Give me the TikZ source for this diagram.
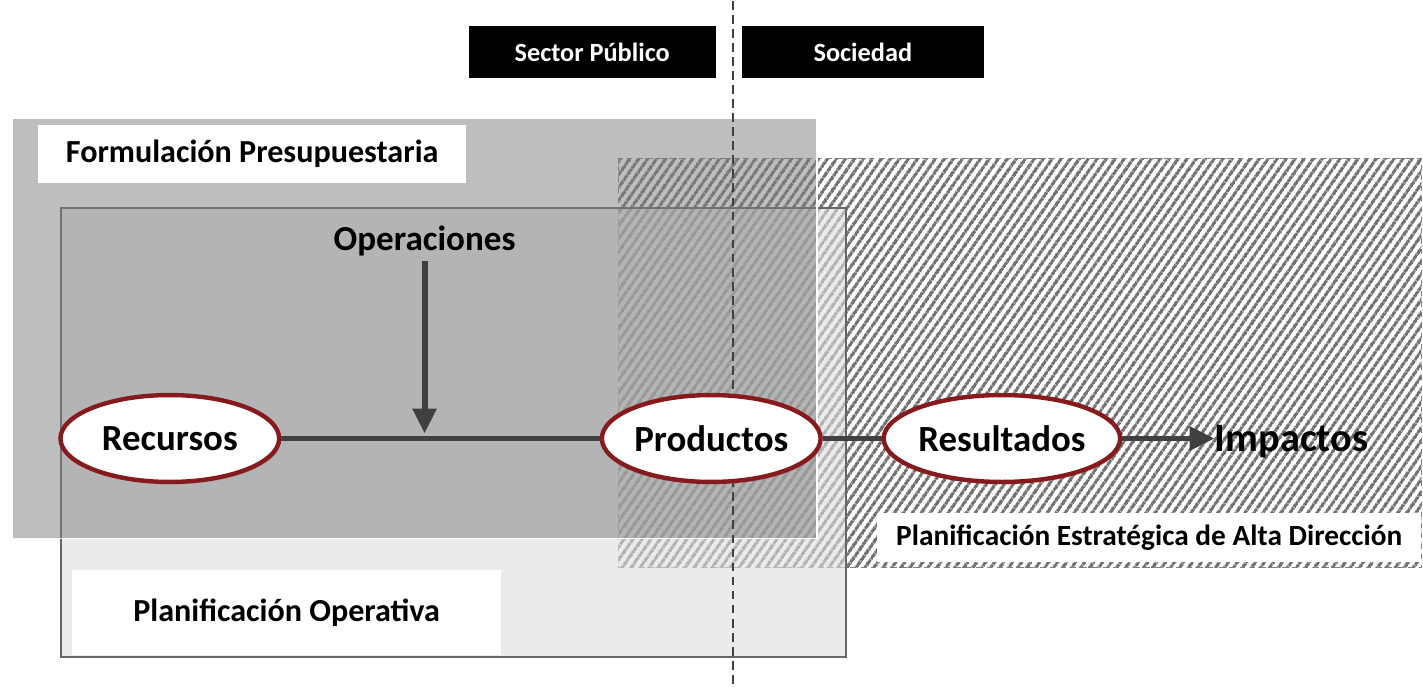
\documentclass[tikz,border=0pt]{standalone}
\usepackage{fontspec}
\setmainfont{Carlito}
\usetikzlibrary{arrows.meta, patterns.meta, shadows, shapes.geometric}

\definecolor{budgetgray}{HTML}{7F7F7F}
\definecolor{opsgray}{HTML}{DFDFDF}
\definecolor{hatchgray}{HTML}{737373}
\definecolor{stagered}{HTML}{861A1C}
\definecolor{flowgray}{HTML}{404040}

\begin{document}
\begin{tikzpicture}[
        x=0.02cm, y=-0.02cm,
        region/.style={rectangle, anchor=north west, inner sep=0pt, outer sep=0pt},
        tag/.style={rectangle, anchor=north west, fill=white, inner sep=0pt, outer sep=0pt, font=\bfseries\fontsize{18.3}{21}\selectfont},
        side/.style={rectangle, anchor=north west, fill=black, text=white, inner sep=0pt, minimum height=1.04cm, font=\bfseries\fontsize{15}{18}\selectfont},
        stage/.style={ellipse, draw=stagered, line width=2.5pt, fill=white, minimum width=4.38cm, minimum height=1.74cm, inner sep=0pt, font=\bfseries\fontsize{21}{25}\selectfont, drop shadow={opacity=0.25, shadow xshift=1pt, shadow yshift=-1.5pt}},
        flow/.style={line width=3.4pt, draw=flowgray},
        arrow/.style={flow, -{Triangle[length=0.5cm, width=0.46cm]}}
    ]
        % Background and page size
        \fill[white] (0,0) rectangle (1423,688);

        % Strategic planning area (hatched)
        \node[region, draw=gray, dashed, pattern={Lines[angle=55, distance=4pt, line width=1.9pt]}, pattern color=hatchgray, minimum width=16.08cm, minimum height=8.18cm] (strategic) at (619,158) {};

        % Operative planning area
        \node[region, fill=opsgray, fill opacity=0.6, draw=gray!80!black, line width=1.2pt, minimum width=15.72cm, minimum height=9cm] (operative) at (61,207) {};

        % Budget formulation area
        \node[region, fill=budgetgray, fill opacity=0.5, draw=white, line width=0.8pt, minimum width=16.12cm, minimum height=8.42cm] (budget) at (12,117) {};

        % Area labels
        \node[tag, minimum width=8.58cm, minimum height=1.16cm] (budgettag) at (38,124) {Formulación Presupuestaria};
        \node[tag, minimum width=8.6cm, minimum height=1.7cm] (operativetag) at (72,570) {Planificación Operativa};
        \node[tag, minimum width=10.9cm, minimum height=0.98cm, font=\bfseries\fontsize{16.7}{20}\selectfont] (strategictag) at (878,513) {Planificación Estratégica de Alta Dirección};

        % Public sector / society divider
        \coordinate (divtop) at (734,0);
        \coordinate (divbottom) at (734,688);
        \draw[flowgray, line width=1.1pt, dash pattern=on 5pt off 3pt] (divtop) -- (divbottom);

        \node[side, minimum width=4.94cm] (public) at (469,25) {Sector Público};
        \node[side, minimum width=4.86cm] (society) at (742,25) {Sociedad};

        % Value chain
        \node[stage] (resources) at (170,438) {Recursos};
        \node[stage] (products) at (712,438) {Productos};
        \node[stage] (results) at (1003,438) {Resultados};
        \node[inner sep=0pt, font=\bfseries\fontsize{23}{27}\selectfont] (impacts) at (1293,441) {Impactos};
        \node[inner sep=3pt, font=\bfseries\fontsize{20}{24}\selectfont] (operations) at (425,240) {Operaciones};
        \coordinate (join) at (425,433);

        % Connections
        \draw[flow] (resources) -- (products);
        \draw[flow] (products) -- (results);
        \draw[arrow] (results) -- (impacts.west |- results);
        \draw[arrow] (operations) -- (join);
    \end{tikzpicture}
\end{document}
